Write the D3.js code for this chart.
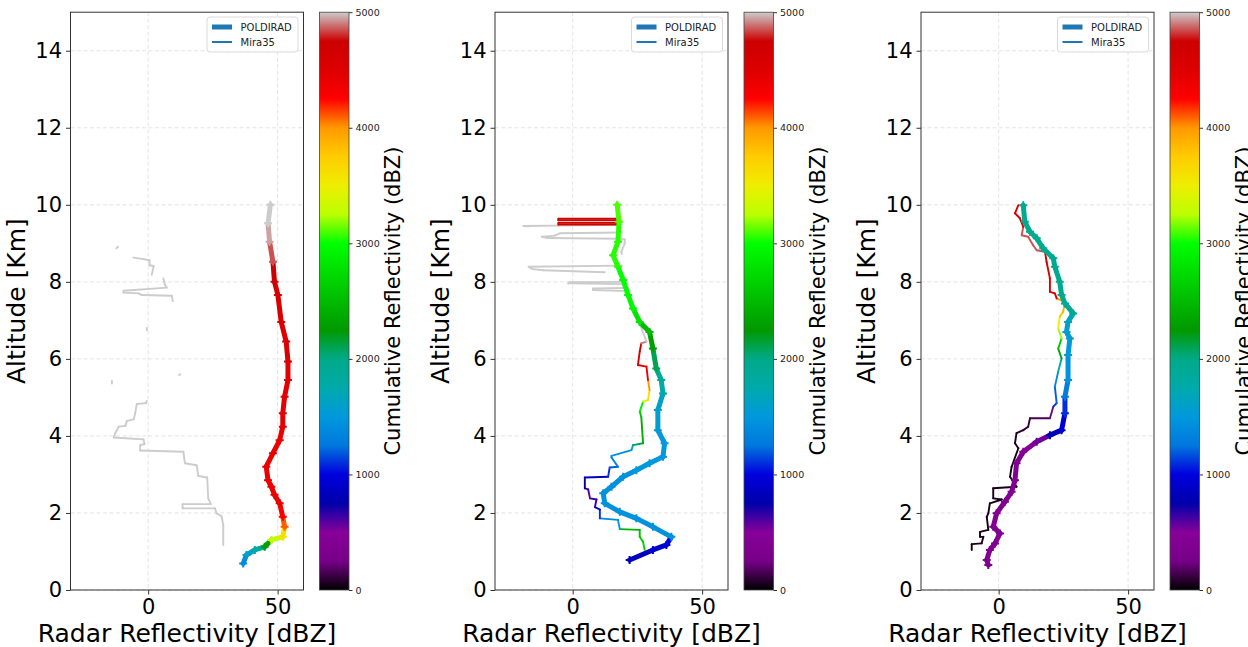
<!DOCTYPE html>
<html>
<head>
<meta charset="utf-8">
<script src="https://cdn.jsdelivr.net/npm/d3@7"></script>
<style>
  body { margin: 0; background: #fff; }
  text { font-family: "DejaVu Sans", sans-serif; }
</style>
</head>
<body>
<svg width="1248" height="647"></svg>
<script>
// points are [reflectivity dBZ, altitude km, cumulative reflectivity]
const pol1 = [
  [36.7,0.69,1400],[38,0.91,1600],[41.2,1.04,1800],[45,1.12,2300],[47.6,1.30,3300],[52,1.38,3600],
  [52.7,1.64,4100],[52,1.9,4300],[50.8,2.25,4400],[48.8,2.47,4400],[47.6,2.68,4400],[46.3,2.85,4400],
  [45.6,3.2,4400],[48.2,3.55,4400],[50.8,3.89,4400],[52,4.24,4450],[52,4.59,4450],[52.7,5.02,4450],
  [54,5.45,4450],[54,5.93,4500],[53.3,6.45,4500],[51.4,6.96,4550],[50.1,7.66,4600],[48.8,8.0,4750],
  [48.2,8.52,4850],[46.9,9.04,4950],[46.3,9.52,5000],[47.2,10.0,5000]
];
const mira1 = [
  [[29,1.17,5000],[29,1.69,5000],[28.3,1.92,5000],[26.4,1.99,5000],[25.8,2.12,5000],[13.3,2.12,5000],
   [13.3,2.23,5000],[24.2,2.23,5000],[23.2,2.38,5000],[22.8,2.92,5000],[19.4,2.96,5000],[18.7,3.24,5000],
   [14.2,3.29,5000],[13.6,3.59,5000],[-3.1,3.62,5000],[-3.1,3.76,5000],[-1.4,3.79,5000],[-1.8,3.91,5000],
   [-13.3,3.96,5000],[-12.7,4.07,5000],[-11.4,4.24,5000],[-8.8,4.26,5000],[-8.2,4.39,5000],[-5.6,4.43,5000],
   [-5,4.59,5000],[-4.4,4.83,5000],[-0.9,4.85,5000],[-0.5,4.91,5000]],
  [[9.5,7.5,5000],[9.1,7.64,5000],[-2.6,7.66,5000],[-3.7,7.70,5000],[-9.5,7.72,5000],[-9.5,7.77,5000],
   [7.2,7.85,5000],[6.5,7.92,5000],[5.9,8.09,5000]],
  [[1.4,8.18,5000],[2.1,8.41,5000],[0.5,8.43,5000],[0.5,8.56,5000],[-1.8,8.59,5000],[-5.7,8.63,5000]],
  [[-12.3,8.87,5000],[-11.7,8.91,5000]],
  [[-0.5,6.74,5000],[-0.5,6.8,5000]],
  [[12,5.58,5000],[12.4,5.6,5000]],
  [[-14,5.36,5000],[-14,5.43,5000]]
];

const pol2 = [
  [22,0.78,850],[31,1.04,900],[36.2,1.17,1000],[38.1,1.38,1450],[31,1.64,1450],[24.6,1.86,1450],
  [18.2,2.03,1450],[12.4,2.25,1450],[11.8,2.51,1450],[15,2.68,1450],[19.5,2.94,1450],[24.6,3.11,1500],
  [29.7,3.29,1500],[34.9,3.46,1500],[35.5,3.81,1500],[32.9,4.15,1550],[32.9,4.67,1600],[34.9,5.1,1750],
  [34.2,5.45,1900],[32.3,5.75,2100],[31,6.27,2300],[29.7,6.70,2500],[25.9,6.96,2800],[23.3,7.31,2950],
  [21.4,7.66,3000],[19.5,8.05,3000],[17.5,8.39,3050],[15.6,8.69,3050],[17.5,9.04,3050],[17.9,9.56,3100],
  [17.2,10.0,3100]
];
const mira2 = [
  [[27.8,1.04,2700],[27.2,1.25,2650],[25.9,1.38,2550],[25.9,1.56,2450],[18.2,1.58,1500],[17.5,1.82,1400],
   [10.5,1.86,1100],[10.5,2.09,900],[8.6,2.15,650],[9.2,2.35,650],[6.7,2.38,600],[6,2.61,650],
   [4.7,2.64,750],[4.7,2.92,850],[13.7,2.94,1100],[14.3,3.18,1200],[17.5,3.2,1300],[15,3.44,1400],
   [15,3.48,1450],[22.7,3.63,1600],[23.3,3.76,2100],[27.2,3.81,2400],[26.5,4.5,2600],[25.9,4.63,2900],
   [27.2,4.89,3400],[29.1,4.93,3600],[29.7,5.19,4000],[29.1,5.45,4300],[28.5,5.8,4400],[25.2,5.84,4500],
   [25.9,6.19,4700],[26.5,6.4,4900],[28.5,6.45,5000],[26,6.9,5000],[23,7.4,5000],[21.5,7.76,5000]],
  [[21.5,7.76,5000],[7.9,7.79,5000],[7.9,7.83,5000],[21.5,7.84,5000]],
  [[21,7.94,5000],[-1.7,7.96,5000],[-1,7.99,5000],[20,8.0,5000]],
  [[19,8.42,5000],[-17,8.39,5000],[-15.5,8.33,5000],[-11.3,8.3,5000],[12.4,8.25,5000]],
  [[19,8.72,5000],[18.8,8.78,5000],[20.1,9.0,5000],[20.1,9.1,5000],[18,9.12,5000],[-10,9.14,5000],
   [-11.9,9.17,5000],[-7,9.2,5000],[-4.9,9.26,5000],[19,9.28,5000]],
  [[19,9.48,5000],[-19,9.45,5000],[-17,9.44,5000]],
  [[17,9.49,4700],[-5.5,9.49,4700],[-5.5,9.53,4700],[17,9.53,4700],[17,9.6,4700],[-5.5,9.6,4700],
   [-5.5,9.64,4700],[17,9.64,4700]]
];

const pol3 = [
  [-4,0.65,350],[-4.6,0.78,350],[-3.4,1.04,400],[-1.4,1.21,400],[0.5,1.47,400],[-2.1,1.64,400],
  [-0.8,1.99,400],[2.4,2.29,400],[5,2.55,400],[6.3,2.85,400],[6.9,3.29,400],[9.5,3.59,450],
  [14.7,3.85,550],[19.8,4.02,800],[24.3,4.15,950],[25.6,4.59,1100],[25.6,5.02,1300],[26.8,5.45,1450],
  [26.8,6.1,1500],[27.5,6.53,1550],[26.2,6.70,1550],[26.8,6.96,1650],[28.8,7.18,1900],[25.6,7.44,1950],
  [24.3,7.66,1950],[23.6,8.0,1950],[21.7,8.39,1950],[21.1,8.61,1950],[17.2,8.87,1950],[14.7,9.13,1950],
  [12.1,9.3,1950],[10.1,9.56,1950],[9.5,9.99,1950]
];
const mira3 = [
  [[-10.4,1.04,50],[-10.4,1.19,50],[-6.6,1.21,50],[-5.9,1.38,50],[-7.2,1.38,50],[-7.2,1.51,50],
   [-4,1.56,50],[-4.6,1.9,50],[-4,1.99,50],[-3.4,2.25,50],[1.2,2.35,50],[-2.1,2.38,50],[-2.1,2.64,50],
   [6.9,2.68,50],[4.4,2.94,50],[5,3.2,50],[7.6,3.68,60],[6.3,3.81,60],[6.9,4.07,80],[9.5,4.15,100],
   [11.4,4.24,100],[12.1,4.46,150],[19.8,4.46,300],[21.1,4.76,1100],[22.4,4.85,1200],[21.7,5.28,1400],
   [23,5.67,1750],[24.3,6.01,2300],[23,6.27,2600],[24.3,6.53,3200],[23,6.79,3500],[23.6,7.1,3800],
   [24.9,7.22,3900],[25.6,7.48,4000],[22.4,7.57,4500],[21.7,7.7,4600],[19.8,7.74,4600],[19.8,8.09,4600],
   [18.5,8.52,4650],[17.9,8.78,4850],[14.7,8.82,4850],[13.3,8.95,4850],[11.4,9.17,4850],[8.9,9.21,4850],
   [9.5,9.43,4700],[8.2,9.65,4600],[6.3,9.78,4600],[7.6,9.99,4600]]
];

const xTicks = [0, 50];
const yTicks = [0, 2, 4, 6, 8, 10, 12, 14];
const cbTicks = [0, 1000, 2000, 3000, 4000, 5000];
const legendLabels = ['POLDIRAD', 'Mira35'];

// nipy_spectral colour map, 21 evenly spaced stops
const cmapColors = ['#000000','#770088','#880099','#0000aa','#0000dd','#0077dd','#0099dd','#00aaaa',
  '#00aa88','#009900','#00bb00','#00dd00','#00ff00','#bbff00','#eeee00','#ffcc00','#ff9900','#ff0000',
  '#dd0000','#cc0000','#cccccc'];
const cmapStops = cmapColors.map((c, i) => 5000 * i / (cmapColors.length - 1));
const color = d3.scaleLinear().domain(cmapStops).range(cmapColors).clamp(true);

const svg = d3.select('svg');
const axW = 233, plotTop = 12.2, plotBottom = 590;
const panels = [
  {left: 70.5, pol: pol1, mira: mira1},
  {left: 495, pol: pol2, mira: mira2},
  {left: 921, pol: pol3, mira: mira3}
];

const grad = svg.append('defs').append('linearGradient')
  .attr('id', 'cmap').attr('x1', 0).attr('y1', 1).attr('x2', 0).attr('y2', 0);
cmapColors.forEach((c, i) => grad.append('stop')
  .attr('offset', i / (cmapColors.length - 1)).attr('stop-color', c));

panels.forEach(p => {
  const x = d3.scaleLinear().domain([-30, 60]).range([p.left, p.left + axW]);
  const y = d3.scaleLinear().domain([0, 15]).range([plotBottom, plotTop]);
  const g = svg.append('g');

  // grid
  g.selectAll(null).data(xTicks).join('line')
    .attr('x1', d => x(d)).attr('x2', d => x(d)).attr('y1', plotTop).attr('y2', plotBottom)
    .attr('stroke', '#dddddd').attr('stroke-width', 0.8).attr('stroke-dasharray', '4,2.5');
  g.selectAll(null).data(yTicks).join('line')
    .attr('x1', p.left).attr('x2', p.left + axW).attr('y1', d => y(d)).attr('y2', d => y(d))
    .attr('stroke', '#dddddd').attr('stroke-width', 0.8).attr('stroke-dasharray', '4,2.5');

  const plot = g.append('g');
  // Mira35: thin coloured steps
  p.mira.forEach(seg => {
    plot.selectAll(null).data(d3.pairs(seg)).join('line')
      .attr('x1', d => x(d[0][0])).attr('y1', d => y(d[0][1]))
      .attr('x2', d => x(d[1][0])).attr('y2', d => y(d[1][1]))
      .attr('stroke', d => color(d[0][2])).attr('stroke-width', 1.9)
      .attr('stroke-linecap', 'round');
  });
  // POLDIRAD: thick coloured profile with markers
  plot.selectAll(null).data(d3.pairs(p.pol)).join('line')
    .attr('x1', d => x(d[0][0])).attr('y1', d => y(d[0][1]))
    .attr('x2', d => x(d[1][0])).attr('y2', d => y(d[1][1]))
    .attr('stroke', d => color(d[0][2])).attr('stroke-width', 5)
    .attr('stroke-linecap', 'round');
  plot.selectAll(null).data(p.pol).join('path')
    .attr('transform', d => `translate(${x(d[0])},${y(d[1])})`)
    .attr('d', 'M-4,0H4M0,-4V4')
    .attr('stroke', d => color(d[2])).attr('stroke-width', 2);

  // frame
  g.append('rect').attr('x', p.left).attr('y', plotTop).attr('width', axW).attr('height', plotBottom - plotTop)
    .attr('fill', 'none').attr('stroke', '#333').attr('stroke-width', 1);

  // axes
  const xAxis = g.append('g').attr('transform', `translate(0,${plotBottom})`)
    .call(d3.axisBottom(x).tickValues(xTicks).tickSize(4.5).tickPadding(4.5));
  const yAxis = g.append('g').attr('transform', `translate(${p.left},0)`)
    .call(d3.axisLeft(y).tickValues(yTicks).tickSize(4.5).tickPadding(4));
  [xAxis, yAxis].forEach(a => {
    a.select('.domain').remove();
    a.selectAll('.tick line').attr('stroke', '#333');
    a.selectAll('.tick text').attr('font-size', 21).attr('fill', '#000')
      .attr('font-family', '"DejaVu Sans", sans-serif');
  });

  g.append('text').attr('x', p.left + axW / 2).attr('y', 642)
    .attr('text-anchor', 'middle').attr('font-size', 25).text('Radar Reflectivity [dBZ]');
  g.append('text').attr('transform', `translate(${p.left - 46},${(plotTop + plotBottom) / 2}) rotate(-90)`)
    .attr('text-anchor', 'middle').attr('font-size', 25).text('Altitude [Km]');

  // legend
  const r = p.left + axW;
  const lg = g.append('g');
  lg.append('rect').attr('x', r - 96.5).attr('y', 17).attr('width', 91).attr('height', 35).attr('rx', 3)
    .attr('fill', '#fff').attr('fill-opacity', 0.8).attr('stroke', '#d0d0d0').attr('stroke-width', 0.8);
  lg.selectAll(null).data(legendLabels).join('line')
    .attr('x1', r - 91.5).attr('x2', r - 71.5)
    .attr('y1', (d, i) => 27 + i * 15).attr('y2', (d, i) => 27 + i * 15)
    .attr('stroke', '#1f77b4').attr('stroke-width', (d, i) => i === 0 ? 5 : 2);
  lg.selectAll(null).data(legendLabels).join('text')
    .attr('x', r - 63).attr('y', (d, i) => 30.5 + i * 15)
    .attr('font-size', 10).attr('fill', '#222').text(d => d);

  // colorbar
  const cbL = r + 16, cbW = 29.5;
  const cb = d3.scaleLinear().domain([0, 5000]).range([plotBottom, plotTop]);
  g.append('rect').attr('x', cbL).attr('y', plotTop).attr('width', cbW).attr('height', plotBottom - plotTop)
    .attr('fill', 'url(#cmap)').attr('stroke', '#444').attr('stroke-width', 0.8);
  const cAxis = g.append('g').attr('transform', `translate(${cbL + cbW},0)`)
    .call(d3.axisRight(cb).tickValues(cbTicks).tickFormat(d3.format('d')).tickSize(3.5).tickPadding(3));
  cAxis.select('.domain').remove();
  cAxis.selectAll('.tick line').attr('stroke', '#333');
  cAxis.selectAll('.tick text').attr('font-size', 9.5).attr('fill', '#222')
    .attr('font-family', '"DejaVu Sans", sans-serif');
  g.append('text').attr('transform', `translate(${cbL + cbW + 51},${(plotTop + plotBottom) / 2}) rotate(-90)`)
    .attr('text-anchor', 'middle').attr('font-size', 21).text('Cumulative Reflectivity (dBZ)');
});
</script>
</body>
</html>
